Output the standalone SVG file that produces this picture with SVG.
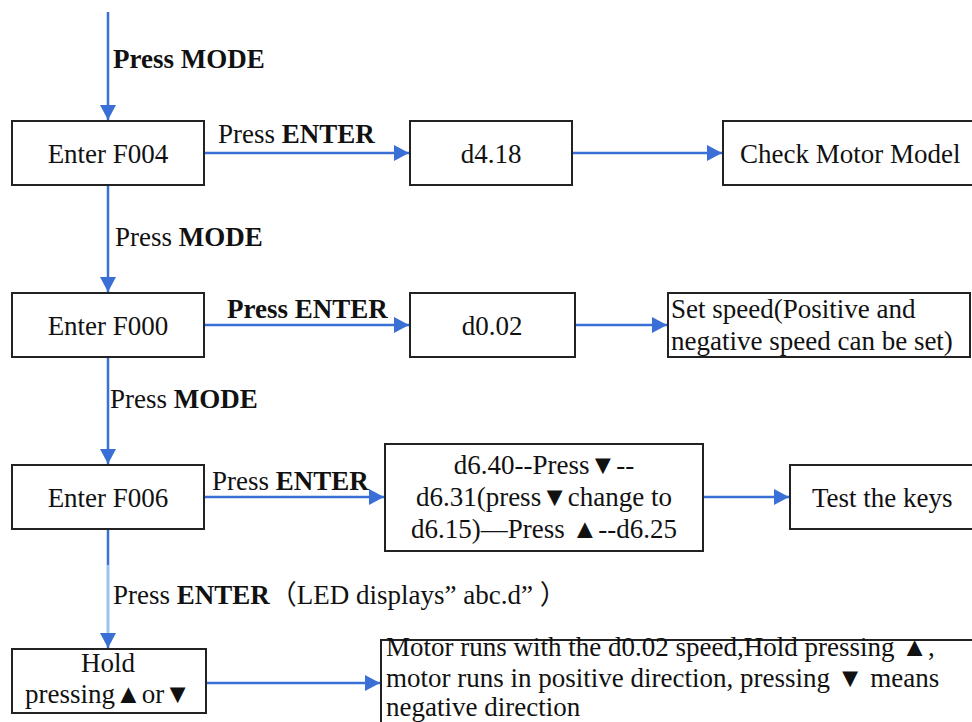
<svg xmlns="http://www.w3.org/2000/svg" width="972" height="722" viewBox="0 0 972 722">
<defs>
<style>
text{font-family:'Liberation Serif','Noto Sans CJK SC',serif;font-size:27px;fill:#111}
.b{font-weight:bold}
.box{fill:#fff;stroke:#222;stroke-width:2}
.ln{stroke:#3a6fd6;stroke-width:2.5;fill:none}
.lt{stroke:#9cc4ee;stroke-width:3;fill:none}
.c{text-anchor:middle}
</style>
<marker id="ah" markerUnits="userSpaceOnUse" markerWidth="16" markerHeight="16" refX="15" refY="8" orient="auto">
<path d="M0,0 L15,8 L0,16 z" fill="#3a6fd6"/>
</marker>
</defs>
<rect width="972" height="722" fill="#fff"/>
<g id="connectors">
<line class="ln" x1="108" y1="12" x2="108" y2="120" marker-end="url(#ah)"/>
<line class="ln" x1="204" y1="153" x2="409" y2="153" marker-end="url(#ah)"/>
<line class="ln" x1="572" y1="153" x2="722" y2="153" marker-end="url(#ah)"/>
<line class="ln" x1="108" y1="185" x2="108" y2="292" marker-end="url(#ah)"/>
<line class="ln" x1="204" y1="325" x2="409" y2="325" marker-end="url(#ah)"/>
<line class="ln" x1="575" y1="325" x2="667" y2="325" marker-end="url(#ah)"/>
<line class="ln" x1="108" y1="357" x2="108" y2="464" marker-end="url(#ah)"/>
<line class="ln" x1="204" y1="497" x2="384" y2="497" marker-end="url(#ah)"/>
<line class="ln" x1="703" y1="497" x2="789" y2="497" marker-end="url(#ah)"/>
<line class="ln" x1="108" y1="529" x2="108" y2="565"/>
<line class="lt" x1="108" y1="565" x2="108" y2="636"/>
<line class="ln" x1="108" y1="634" x2="108" y2="648" marker-end="url(#ah)"/>
<line class="ln" x1="206" y1="683" x2="380" y2="683" marker-end="url(#ah)"/>
<text x="113" y="68" class="b">Press MODE</text>
<text x="218" y="143">Press <tspan class="b">ENTER</tspan></text>
<text x="115" y="246">Press <tspan class="b">MODE</tspan></text>
<text x="227" y="318" class="b">Press ENTER</text>
<text x="110" y="408">Press <tspan class="b">MODE</tspan></text>
<text x="212" y="490">Press <tspan class="b">ENTER</tspan></text>
<text x="113" y="604">Press <tspan class="b">ENTER</tspan>（LED displays” abc.d” ）</text>
</g>
<g id="n-f004"><rect class="box" x="12" y="121" width="192" height="64"/><text x="108" y="163" class="c">Enter F004</text></g>
<g id="n-d418"><rect class="box" x="410" y="121" width="162" height="64"/><text x="491" y="163" class="c">d4.18</text></g>
<g id="n-check"><rect class="box" x="723" y="121" width="260" height="64"/><text x="740" y="163">Check Motor Model</text></g>
<g id="n-f000"><rect class="box" x="12" y="293" width="192" height="64"/><text x="108" y="335" class="c">Enter F000</text></g>
<g id="n-d002"><rect class="box" x="410" y="293" width="165" height="64"/><text x="492" y="335" class="c">d0.02</text></g>
<g id="n-speed"><rect class="box" x="668" y="293" width="302" height="64"/><text x="671" y="318">Set speed(Positive and</text><text x="671" y="350">negative speed can be set)</text></g>
<g id="n-f006"><rect class="box" x="12" y="465" width="192" height="64"/><text x="108" y="507" class="c">Enter F006</text></g>
<g id="n-d640"><rect class="box" x="385" y="444" width="318" height="107"/><text x="544" y="474" class="c">d6.40--Press▼--</text><text x="544" y="506" class="c">d6.31(press▼change to</text><text x="544" y="538" class="c">d6.15)—Press ▲--d6.25</text></g>
<g id="n-test"><rect class="box" x="790" y="465" width="192" height="64"/><text x="812" y="507">Test the keys</text></g>
<g id="n-hold"><rect class="box" x="12" y="649" width="194" height="64"/><text x="108" y="672" class="c">Hold</text><text x="108" y="703" class="c">pressing▲or▼</text></g>
<g id="n-motor"><rect class="box" x="381" y="640" width="600" height="90"/><text x="386" y="656">Motor runs with the d0.02 speed,Hold pressing ▲,</text><text x="386" y="687">motor runs in positive direction,  pressing ▼ means</text><text x="386" y="716">negative direction</text></g>
</svg>
